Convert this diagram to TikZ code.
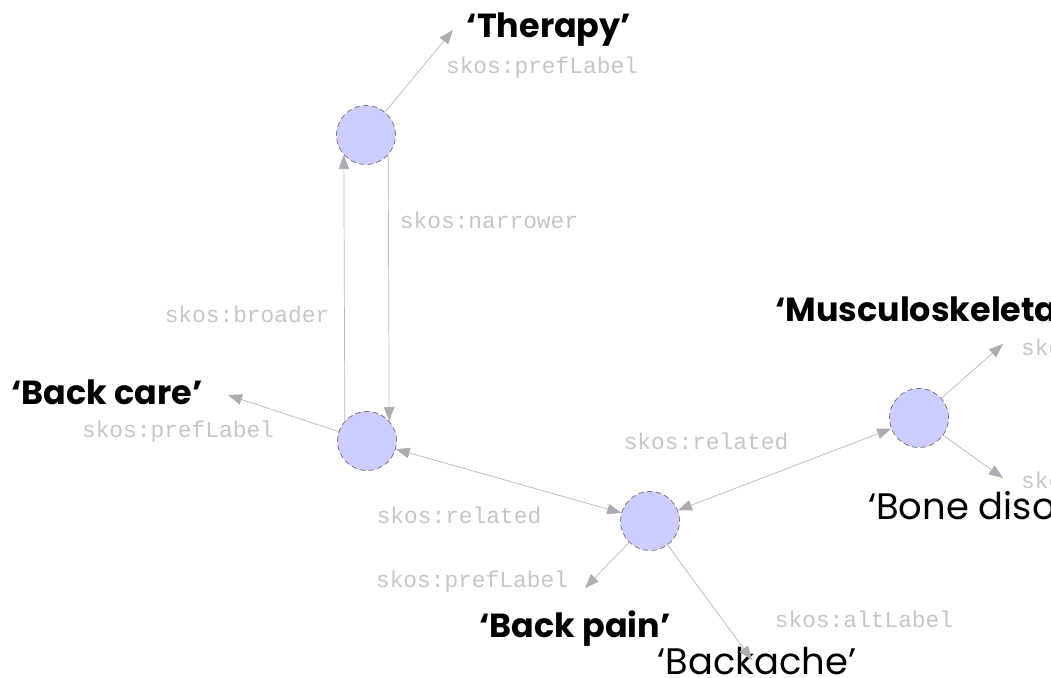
\documentclass[tikz,border=0pt]{standalone}
\usepackage{fontspec}
\setmainfont{Poppins}
\newfontfamily\skosfont{Liberation Mono}
\usetikzlibrary{arrows.meta}
\definecolor{edgegray}{RGB}{185,185,190}
\definecolor{tipgray}{RGB}{172,172,178}
\definecolor{skosgray}{RGB}{198,198,198}
\definecolor{conceptfill}{RGB}{204,204,255}
\definecolor{conceptdraw}{RGB}{110,110,120}
\tikzset{
	concept/.style={circle,fill=conceptfill,draw=conceptdraw,densely dashed,thin,minimum size=1.18cm,inner sep=0pt},
	rel/.style={draw=edgegray,thin,-{Triangle[length=8pt,width=6pt,fill=tipgray,color=tipgray]}},
	relboth/.style={draw=edgegray,thin,{Triangle[length=8pt,width=6pt,fill=tipgray,color=tipgray]}-{Triangle[length=8pt,width=6pt,fill=tipgray,color=tipgray]}},
	skos/.style={text=skosgray,font=\skosfont\fontsize{13pt}{15pt}\selectfont,inner sep=1pt},
	pref/.style={font=\bfseries\fontsize{19pt}{22pt}\selectfont,inner sep=1pt},
	alt/.style={font=\fontsize{21pt}{24pt}\selectfont,inner sep=1pt}
}
\begin{document}
\begin{tikzpicture}[x=0.02cm,y=-0.02cm]
	\path[use as bounding box,clip] (0,0) rectangle (1051,677);
	% concepts
	\node[concept] (therapy) at (366,135) {};
	\node[concept] (backcare) at (367,441) {};
	\node[concept] (backpain) at (650,521) {};
	\node[concept] (musculo) at (919,418) {};
	% label ends
	\coordinate (tipT) at (453,30);
	\coordinate (tipA) at (228,395);
	\coordinate (tipP) at (585,588);
	\coordinate (tipPalt) at (752,660);
	\coordinate (tipM) at (1003,344);
	\coordinate (tipMalt) at (1003,478);
	% labels
	\node[pref] (lblT) at (549,30) {‘Therapy’};
	\node[pref] (lblA) at (107,392) {‘Back care’};
	\node[pref] (lblP) at (575,629) {‘Back pain’};
	\node[alt] (lblPalt) at (757,661) {‘Backache’};
	\node[pref,anchor=west] (lblM) at (773,308) {‘Musculoskeletal disorders’};
	\node[alt,anchor=west] (lblMalt) at (866,506) {‘Bone disorders’};
	% edges
	\draw[rel] (therapy) -- (tipT);
	\draw[rel] (backcare.138) -- (therapy.222);
	\draw[rel] (therapy.-42) -- (backcare.42);
	\draw[rel] (backcare) -- (tipA);
	\draw[relboth] (backcare) -- (backpain);
	\draw[relboth] (backpain) -- (musculo);
	\draw[rel] (backpain) -- (tipP);
	\draw[rel] (backpain) -- (tipPalt);
	\draw[rel] (musculo) -- (tipM);
	\draw[rel] (musculo) -- (tipMalt);
	% edge names
	\node[skos] (skT) at (542,68) {skos:prefLabel};
	\node[skos] (skNarrow) at (489,220) {skos:narrower};
	\node[skos] (skBroad) at (247,314) {skos:broader};
	\node[skos] (skA) at (178,432) {skos:prefLabel};
	\node[skos] (skRel1) at (459,515) {skos:related};
	\node[skos] (skRel2) at (706,441) {skos:related};
	\node[skos] (skP) at (472,582) {skos:prefLabel};
	\node[skos] (skPalt) at (864,619) {skos:altLabel};
	\node[skos,anchor=west] (skM) at (1019,350) {skos:prefLabel};
	\node[skos,anchor=west] (skMalt) at (1019,480) {skos:altLabel};
\end{tikzpicture}
\end{document}
